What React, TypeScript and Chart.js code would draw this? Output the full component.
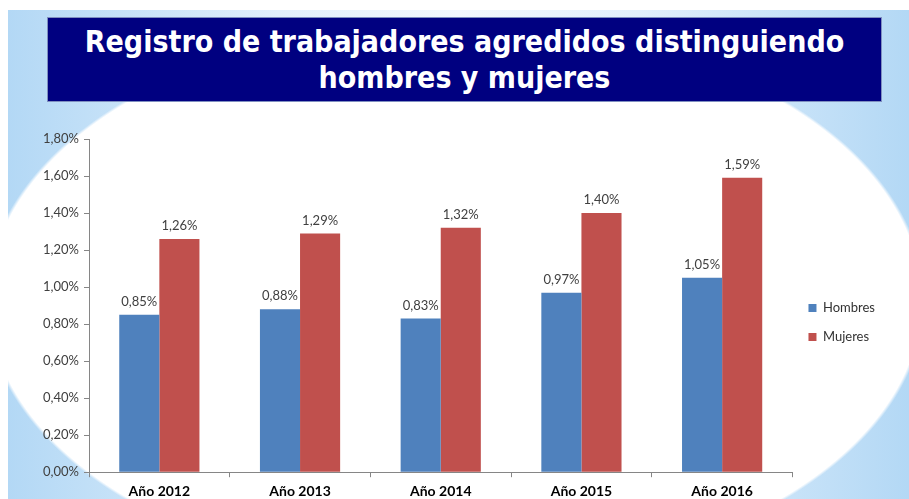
import React, { useEffect, useRef } from "react";
import { Chart, registerables } from "chart.js";

Chart.register(...registerables);

const categories = ["Año 2012", "Año 2013", "Año 2014", "Año 2015", "Año 2016"];
const hombres = [0.85, 0.88, 0.83, 0.97, 1.05];
const mujeres = [1.26, 1.29, 1.32, 1.4, 1.59];
const seriesNames = ["Hombres", "Mujeres"];
const titleLines = ["Registro de trabajadores agredidos distinguiendo", "hombres y mujeres"];
const yMin = 0;
const yMax = 1.8;
const yStep = 0.2;

const fmt = (v: number) => v.toFixed(2).replace(".", ",") + "%";

const labelPlugin = {
  id: "valueLabels",
  afterDatasetsDraw(chart: any) {
    const ctx = chart.ctx;
    ctx.save();
    ctx.font = "13px Lato";
    ctx.fillStyle = "#404040";
    ctx.textAlign = "center";
    ctx.textBaseline = "middle";
    chart.data.datasets.forEach((ds: any, i: number) => {
      const meta = chart.getDatasetMeta(i);
      meta.data.forEach((bar: any, j: number) => {
        ctx.fillText(fmt(ds.data[j]), bar.x, bar.y - 13);
      });
    });
    ctx.restore();
  },
};

export default function App() {
  const ref = useRef<HTMLCanvasElement>(null);

  useEffect(() => {
    document.body.style.margin = "0";
    const chart = new Chart(ref.current!, {
      type: "bar",
      data: {
        labels: categories,
        datasets: [
          { label: seriesNames[0], data: hombres, backgroundColor: "#4F81BD", borderWidth: 0 },
          { label: seriesNames[1], data: mujeres, backgroundColor: "#C0504D", borderWidth: 0 },
        ],
      },
      options: {
        responsive: false,
        animation: false,
        layout: { padding: { top: 19, right: 24, left: 0, bottom: 0 } },
        datasets: { bar: { categoryPercentage: 0.57, barPercentage: 1 } },
        plugins: {
          tooltip: { enabled: false },
          title: { display: false },
          legend: {
            position: "right",
            align: "center",
            labels: {
              boxWidth: 8,
              boxHeight: 8,
              padding: 16,
              color: "#333333",
              font: { family: "Lato", size: 13 },
            },
          },
        },
        scales: {
          x: {
            grid: { drawOnChartArea: false, tickLength: 5, color: "#868686", offset: true },
            border: { color: "#868686" },
            ticks: { color: "#000000", padding: 6, font: { family: "Lato", size: 14, weight: "bold" } },
          },
          y: {
            min: yMin,
            max: yMax,
            afterFit: (s: any) => {
              s.width = 89;
            },
            grid: { drawOnChartArea: false, tickLength: 5, color: "#868686" },
            border: { color: "#868686" },
            ticks: {
              stepSize: yStep,
              padding: 5,
              color: "#404040",
              font: { family: "Lato", size: 13 },
              callback: (v: any) => fmt(Number(v)),
            },
          },
        },
      },
      plugins: [labelPlugin],
    } as any);
    return () => chart.destroy();
  }, []);

  return (
    <div style={{ position: "fixed", left: 0, top: 0, width: 909, height: 499, overflow: "hidden", background: "#fff" }}>
      <div
        style={{
          position: "absolute",
          left: 8,
          top: 10,
          width: 901,
          height: 489,
          background:
            "radial-gradient(ellipse 470px 280px at 447px 290px, #ffffff 99.2%, rgba(255,255,255,0) 100%), linear-gradient(to right, #b3d8f5 0%, #e2f0fc 30%, #f3f9fe 50%, #e2f0fc 70%, #b3d8f5 100%)",
        }}
      />
      <div
        style={{
          position: "absolute",
          left: 47,
          top: 17,
          width: 835,
          height: 85,
          boxSizing: "border-box",
          background: "#000080",
          border: "1px solid #7f8fc0",
          color: "#ffffff",
          fontFamily: "'DejaVu Sans Condensed', 'DejaVu Sans', sans-serif",
          fontWeight: "bold",
          fontSize: 30,
          lineHeight: "36px",
          textAlign: "center",
          paddingTop: 6,
        }}
      >
        {titleLines.map((t, i) => (
          <div key={i}>{t}</div>
        ))}
      </div>
      <div style={{ position: "absolute", left: 0, top: 120, width: 909, height: 386 }}>
        <canvas ref={ref} width={909} height={386} />
      </div>
    </div>
  );
}
